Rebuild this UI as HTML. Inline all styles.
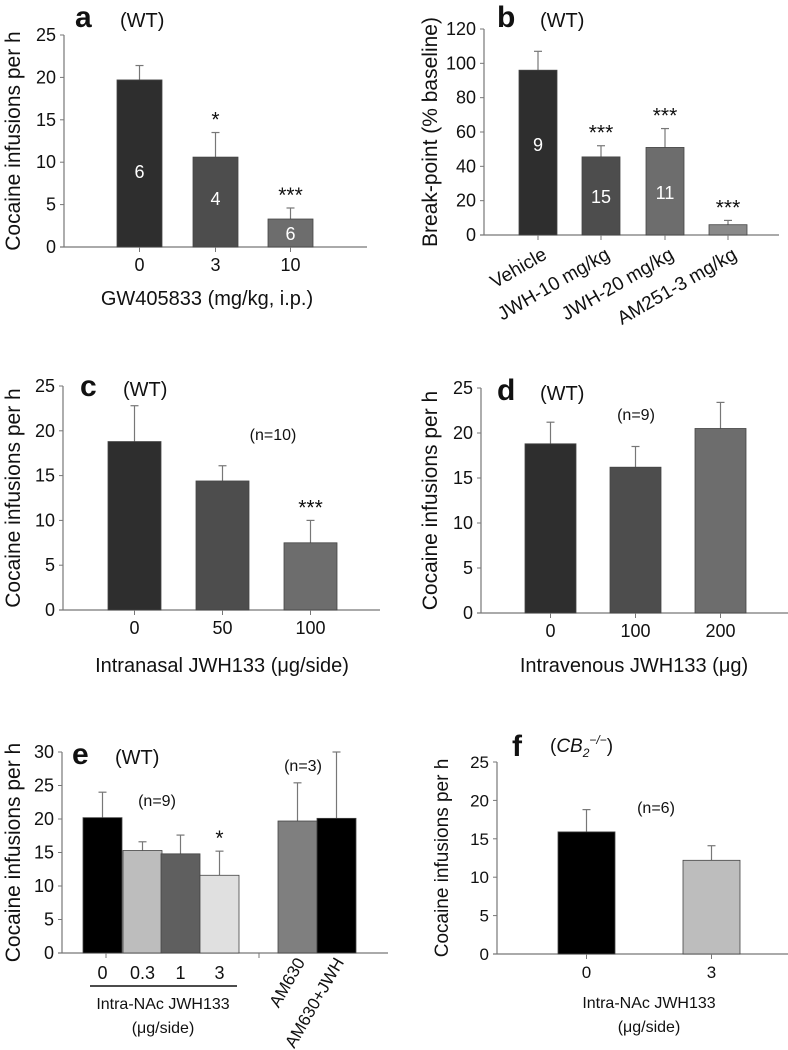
<!DOCTYPE html>
<html><head><meta charset="utf-8"><style>
html,body{margin:0;padding:0;background:#fff;}
svg{display:block;font-family:"Liberation Sans",Arial,sans-serif;}
</style></head><body>
<svg id="fig" width="788" height="1050" viewBox="0 0 788 1050"></svg>
<script>
const aCats=["0","3","10"], aVals=[19.7,10.6,3.3], aErr=[21.4,13.5,4.6], aN=["6","4","6"], aStars=["","*","***"];
const aTicks=[0,5,10,15,20,25];
const bCats=["Vehicle","JWH-10 mg/kg","JWH-20 mg/kg","AM251-3 mg/kg"], bVals=[96,45.5,51,6], bErr=[107,52,62,8.5], bN=["9","15","11",""], bStars=["","***","***","***"];
const bTicks=[0,20,40,60,80,100,120];
const cCats=["0","50","100"], cVals=[18.8,14.4,7.5], cErr=[22.8,16.1,10.0], cStars=["","","***"];
const cTicks=[0,5,10,15,20,25];
const dCats=["0","100","200"], dVals=[18.8,16.2,20.5], dErr=[21.2,18.5,23.4];
const dTicks=[0,5,10,15,20,25];
const eCats=["0","0.3","1","3","AM630","AM630+JWH"], eVals=[20.2,15.3,14.8,11.6,19.7,20.1], eErr=[24.0,16.6,17.6,15.2,25.4,30.0], eStars=["","","","*","",""];
const eTicks=[0,5,10,15,20,25,30];
const fCats=["0","3"], fVals=[15.9,12.2], fErr=[18.8,14.1];
const fTicks=[0,5,10,15,20,25];

const svg=document.getElementById('fig');
const NS="http://www.w3.org/2000/svg";
function mk(tag,attrs,parent,text){const e=document.createElementNS(NS,tag);for(const k in attrs)e.setAttribute(k,attrs[k]);if(text!==undefined)e.textContent=text;(parent||svg).appendChild(e);return e;}

function panel(p){
  const g=mk('g',{});
  
  
  const y=v=>p.y0-(v/p.max)*(p.y0-p.yTop);
  const ax=mk('line',{x1:p.ax,y1:p.yTop,x2:p.ax,y2:p.y0,stroke:'#777','stroke-width':1.2},g);
  
  const xa=mk('line',{x1:p.ax-4,y1:p.y0,x2:p.axEnd,y2:p.y0,stroke:'#777','stroke-width':1.2},g);
  
  const fs=p.tfs||18;
  p.ticks.forEach(t=>{
    mk('line',{x1:p.ax-4,y1:y(t),x2:p.ax,y2:y(t),stroke:'#777'},g);
    const tl=mk('text',{x:p.ax-8,y:y(t)+6,'text-anchor':'end','font-size':fs,fill:'#111'},g,String(t));
    
  });
  const yt=mk('text',{x:0,y:0,'text-anchor':'middle','font-size':p.yfs||21,fill:'#111',transform:`translate(${p.ylx},${(p.y0+p.yTop)/2}) rotate(-90)`},g,p.ytitle);
  
  p.vals.forEach((v,i)=>{
    const x0=p.bx[i], w=p.bw;
    const cx=x0+w/2;
    const er=mk('line',{x1:cx,y1:y(p.err[i]),x2:cx,y2:y(v),stroke:'#777','stroke-width':1.2},g);
    
    mk('line',{x1:cx-4,y1:y(p.err[i]),x2:cx+4,y2:y(p.err[i]),stroke:'#777','stroke-width':1.2},g);
    const r=mk('rect',{x:x0,y:y(v),width:w,height:p.y0-y(v),fill:p.colors[i],stroke:'#444','stroke-width':0.8},g);
    
    if(!p.noTickMarks) mk('line',{x1:cx,y1:p.y0,x2:cx,y2:p.y0+5,stroke:'#777'},g);
    if(p.n&&p.n[i]){const t=mk('text',{x:cx,y:p.nY?p.nY(i,y):(y(v)+p.y0)/2+6,'text-anchor':'middle','font-size':18,fill:'#fff'},g,p.n[i]);}
    if(p.stars&&p.stars[i]){const t=mk('text',{x:cx,y:y(p.err[i])-6,'text-anchor':'middle','font-size':21,fill:'#111'},g,p.stars[i]);}
    if(p.catLabel){p.catLabel(p.cats[i],cx,g);}
    else{const t=mk('text',{x:cx,y:p.y0+24,'text-anchor':'middle','font-size':fs,fill:'#111'},g,p.cats[i]);}
  });
  const L=mk('text',{x:p.lx,y:p.ly,'font-size':30,'font-weight':'bold',fill:'#111'},g,p.id);
  
  if(p.wt===undefined){const W=mk('text',{x:p.wx,y:p.ly,'font-size':20,fill:'#111'},g,'(WT)');
  }
  return g;
}

panel({id:'a',ax:64,axEnd:367,y0:247,yTop:35,max:25,ticks:aTicks,vals:aVals,err:aErr,cats:aCats,n:aN,stars:aStars,
  bx:[117,193,268],bw:45,colors:['#2e2e2e','#4d4d4d','#6d6d6d'],ylx:20,ytitle:'Cocaine infusions per h',lx:75,ly:27,wx:120,
  nY:(i,y)=>[178,205,240][i]});
(()=>{const t=mk('text',{x:207,y:305,'text-anchor':'middle','font-size':20,fill:'#111'},null,'GW405833 (mg/kg, i.p.)');})();

panel({id:'b',ax:484,axEnd:779,y0:235,yTop:29,max:120,ticks:bTicks,vals:bVals,err:bErr,cats:bCats,n:bN,stars:bStars,
  bx:[519,582,646,709],bw:38,colors:['#2e2e2e','#4d4d4d','#6d6d6d','#8a8a8a'],ylx:437,ytitle:'Break-point (% baseline)',lx:497,ly:27,wx:540,
  nY:(i,y)=>[151,203,199,0][i],
  catLabel:(c,cx,g)=>{const t=mk('text',{x:0,y:0,'text-anchor':'end','font-size':19,fill:'#111',transform:`translate(${cx+10},${258}) rotate(-30)`},g,c);}});

panel({id:'c',ax:63,axEnd:380,y0:610,yTop:386,max:25,ticks:cTicks,vals:cVals,err:cErr,cats:cCats,stars:cStars,
  bx:[108,196,284],bw:53,colors:['#2e2e2e','#4d4d4d','#6d6d6d'],ylx:20,ytitle:'Cocaine infusions per h',lx:80,ly:396,wx:123});
(()=>{let t=mk('text',{x:273,y:440,'text-anchor':'middle','font-size':16,fill:'#111'},null,'(n=10)');
t=mk('text',{x:222,y:672,'text-anchor':'middle','font-size':20,fill:'#111'},null,'Intranasal JWH133 (μg/side)');})();

panel({id:'d',ax:481,axEnd:788,y0:613,yTop:388,max:25,ticks:dTicks,vals:dVals,err:dErr,cats:dCats,
  bx:[525,610,695],bw:51,colors:['#2e2e2e','#4d4d4d','#6d6d6d'],ylx:437,ytitle:'Cocaine infusions per h',lx:497,ly:400,wx:540});
(()=>{let t=mk('text',{x:636,y:420,'text-anchor':'middle','font-size':16,fill:'#111'},null,'(n=9)');
t=mk('text',{x:634,y:672,'text-anchor':'middle','font-size':20,fill:'#111'},null,'Intravenous JWH133 (μg)');})();

panel({id:'e',ax:62,axEnd:388,y0:953,yTop:752,max:30,ticks:eTicks,vals:eVals,err:eErr,cats:eCats,stars:eStars,noTickMarks:true,
  bx:[83,123,161,200,278,317],bw:39,colors:['#000','#bdbdbd','#5f5f5f','#e0e0e0','#7f7f7f','#000'],ylx:20,ytitle:'Cocaine infusions per h',lx:72,ly:764,wx:115,
  catLabel:(c,cx,g)=>{let t;
    if(c.startsWith('AM')){t=mk('text',{x:0,y:0,'text-anchor':'end','font-size':17,fill:'#111',transform:`translate(${cx+8},${962}) rotate(-60)`},g,c);}
    else{t=mk('text',{x:cx,y:979,'text-anchor':'middle','font-size':18,fill:'#111'},g,c);}
    }});
(()=>{[106,259].forEach(x=>mk('line',{x1:x,y1:953,x2:x,y2:958,stroke:'#777'}));
let t=mk('text',{x:157,y:806,'text-anchor':'middle','font-size':16,fill:'#111'},null,'(n=9)');
t=mk('text',{x:303,y:771,'text-anchor':'middle','font-size':16,fill:'#111'},null,'(n=3)');
const l=mk('line',{x1:90,y1:986,x2:237,y2:986,stroke:'#111','stroke-width':1.5});
t=mk('text',{x:163,y:1009,'text-anchor':'middle','font-size':16,fill:'#111'},null,'Intra-NAc JWH133');
t=mk('text',{x:163,y:1033,'text-anchor':'middle','font-size':16,fill:'#111'},null,'(μg/side)');})();

panel({id:'f',ax:497,axEnd:788,y0:954,yTop:762,max:25,ticks:fTicks,vals:fVals,err:fErr,cats:fCats,tfs:17,yfs:19,
  bx:[558,683],bw:57,colors:['#000','#bdbdbd'],ylx:448,ytitle:'Cocaine infusions per h',lx:512,ly:756,wt:''});
(()=>{const w=mk('text',{x:550,y:752,'font-size':19,fill:'#111'});
w.innerHTML='(<tspan font-style="italic">CB</tspan><tspan font-size="12" dy="5" font-style="italic">2</tspan><tspan font-size="12" dy="-13" font-style="italic">−/−</tspan><tspan dy="8">)</tspan>';
let t=mk('text',{x:656,y:813,'text-anchor':'middle','font-size':16,fill:'#111'},null,'(n=6)');
t=mk('text',{x:649,y:1008,'text-anchor':'middle','font-size':16,fill:'#111'},null,'Intra-NAc JWH133');
t=mk('text',{x:649,y:1032,'text-anchor':'middle','font-size':16,fill:'#111'},null,'(μg/side)');})();
</script>
</body></html>
